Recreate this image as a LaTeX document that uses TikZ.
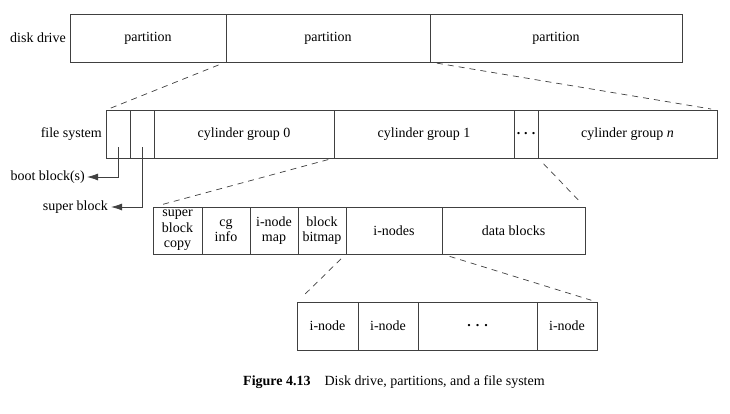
\documentclass[tikz,border=0pt]{standalone}
\usepackage{fontspec}
\setmainfont{Liberation Serif}
\usetikzlibrary{arrows.meta}
\definecolor{linegray}{gray}{0.25}
\newcommand{\spdots}[1]{\textbf{.}\hspace{#1}\textbf{.}\hspace{#1}\textbf{.}}
\begin{document}
\begin{tikzpicture}[x=1pt,y=-1pt,
  cell/.style={draw=linegray, line width=0.9pt, rectangle, anchor=north west,
    inner sep=0pt, outer sep=0pt, align=center,
    font=\fontsize{14}{15.5}\selectfont},
  lbl/.style={anchor=east, inner sep=0pt, font=\fontsize{14}{15.5}\selectfont},
  zoomline/.style={draw=linegray, line width=0.7pt, dash pattern=on 6pt off 5pt},
  callout/.style={draw=linegray, line width=0.8pt, -{Latex[length=11pt,width=7pt]}}]
\useasboundingbox (0,0) rectangle (730,413);
\fill[white] (0,0) rectangle (730,413);

% disk drive row
\node[lbl] (disk) at (66,38) {disk drive};
\node[cell, minimum width=156pt, minimum height=48pt] (p1) at (70,14) {partition};
\node[cell, minimum width=204pt, minimum height=48pt] (p2) at (226,14) {partition};
\node[cell, minimum width=252pt, minimum height=48pt] (p3) at (430,14) {partition};

% file system row
\node[lbl] (fslbl) at (102,134) {file system};
\node[cell, minimum width=24pt, minimum height=48pt] (fs1) at (106,110) {};
\node[cell, minimum width=24pt, minimum height=48pt] (fs2) at (130,110) {};
\node[cell, minimum width=180pt, minimum height=48pt] (cg0) at (154,110) {cylinder group 0};
\node[cell, minimum width=180pt, minimum height=48pt] (cg1) at (334,110) {cylinder group 1};
\node[cell, minimum width=24pt, minimum height=48pt] (cgd) at (514,110) {\spdots{4pt}};
\node[cell, minimum width=179pt, minimum height=48pt] (cgn) at (538,110) {cylinder group \textit{n}};

% cylinder group row
\node[cell, minimum width=49pt, minimum height=47pt] (sbc) at (153,207) {super\\block\\copy};
\node[cell, minimum width=48pt, minimum height=47pt] (cgi) at (202,207) {cg\\info};
\node[cell, minimum width=48pt, minimum height=47pt] (imap) at (250,207) {i-node\\map};
\node[cell, minimum width=48pt, minimum height=47pt] (bmap) at (298,207) {block\\bitmap};
\node[cell, minimum width=96pt, minimum height=47pt] (inodes) at (346,207) {i-nodes};
\node[cell, minimum width=143pt, minimum height=47pt] (data) at (442,207) {data blocks};

% i-node row
\node[cell, minimum width=61pt, minimum height=48pt] (in1) at (297,302) {i-node};
\node[cell, minimum width=60pt, minimum height=48pt] (in2) at (358,302) {i-node};
\node[cell, minimum width=119pt, minimum height=48pt] (indots) at (418,302) {\spdots{5pt}};
\node[cell, minimum width=60pt, minimum height=48pt] (in3) at (537,302) {i-node};

% zoom (dashed) lines
\draw[zoomline, shorten <=8pt, shorten >=5pt] (p2.south west) -- (fs1.north west);
\draw[zoomline, shorten <=7pt, shorten >=6pt] (p3.south west) -- (cgn.north east);
\draw[zoomline, shorten <=6pt, shorten >=7pt] (cg1.south west) -- (sbc.north west);
\draw[zoomline, shorten <=8pt, shorten >=7pt] (cgn.south west) -- (data.north east);
\draw[zoomline, shorten <=7pt, shorten >=7pt] (inodes.south west) -- (in1.north west);
\draw[zoomline, shorten <=8pt, shorten >=6pt] (data.south west) -- (in3.north east);

% callouts
\node[lbl] (bootlbl) at (85,177) {boot block(s)};
\node[lbl] (superlbl) at (108,207) {super block};
\coordinate (bootstart) at (118,147);
\coordinate (superstart) at (142,147);
\draw[callout, shorten >=2pt] (bootstart) |- (bootlbl.east);
\draw[callout, shorten >=3pt] (superstart) |- (superlbl.east);

% caption
\node[anchor=west, inner sep=0pt, font=\fontsize{14}{16}\selectfont] (cap) at (243,382)
  {\textbf{Figure 4.13}\quad Disk drive, partitions, and a file system};
\end{tikzpicture}
\end{document}
